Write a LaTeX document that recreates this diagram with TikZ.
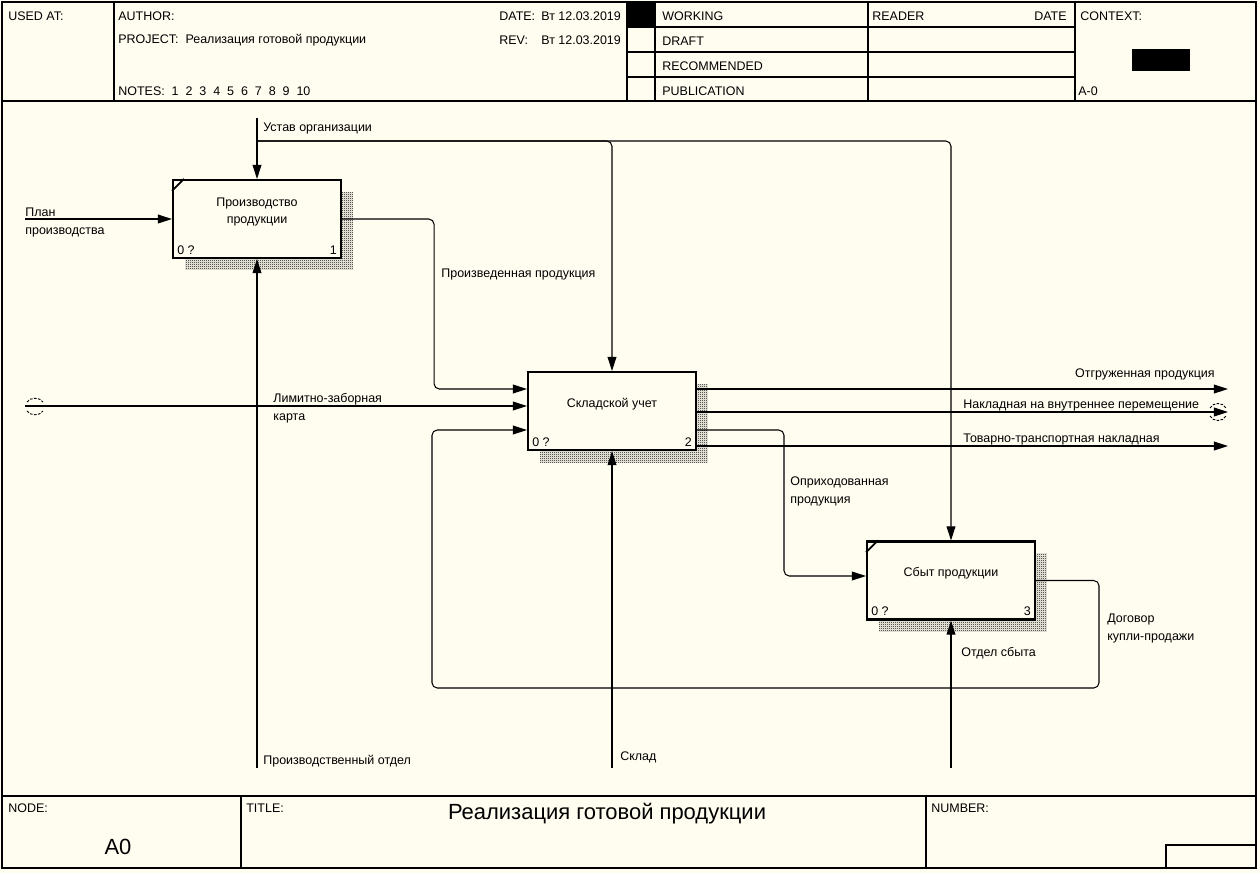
\documentclass[tikz,border=0pt]{standalone}
\usepackage{fontspec}
\setmainfont{Liberation Sans}
\usetikzlibrary{positioning, calc, arrows.meta, patterns, shadows}
\definecolor{paper}{HTML}{FFFCF0}
\pgfdeclarepatternformonly{idefshade}{\pgfpointorigin}{\pgfqpoint{1.14pt}{1.14pt}}{\pgfqpoint{1.14pt}{1.14pt}}{%
  \pgfpathrectangle{\pgfpointorigin}{\pgfqpoint{0.57pt}{0.57pt}}%
  \pgfpathrectangle{\pgfqpoint{0.57pt}{0.57pt}}{\pgfqpoint{0.57pt}{0.57pt}}%
  \pgfusepath{fill}}

\begin{document}
\begin{tikzpicture}[x=0.02cm, y=-0.02cm]
		% settings for this sheet
		\tikzset{
			>={Triangle[length=8pt,width=5pt]},
			txt/.style={font=\fontsize{7.1}{10.2}\selectfont, inner sep=0pt, align=left},
			lbl/.style={txt, anchor=west, yshift=-0.8pt},
			func/.style={draw, line width=1.2pt, fill=paper, minimum width=3.36cm, minimum height=1.56cm, inner sep=0pt,
				general shadow={shadow xshift=0.24cm, shadow yshift=-0.24cm, pattern=idefshade, pattern color=black}},
			link/.style={->, line width=0.6pt, rounded corners=3pt},
			rule/.style={line width=0.6pt},
			tunnel/.style={line width=0.5pt, dash pattern=on 1.5pt off 0.8pt},
		}

		% sheet
		\fill[paper] (0,0) rectangle (1260,873);
		\draw[line width=1pt] (2,2) rectangle (1256,868);

		% header
		\draw[rule] (2,101) -- (1256,101);
		\draw[rule] (114,2) -- (114,101) (627,2) -- (627,101) (655,2) -- (655,101)
			(868,2) -- (868,101) (1075,2) -- (1075,101);
		\draw[rule] (627,27) -- (1075,27) (627,52) -- (1075,52) (627,77) -- (1075,77);
		\fill (627,2) rectangle (655,27);
		\fill (1132,49) rectangle (1190,71);
		\node[lbl] (usedat) at (8,15) {USED AT:};
		\node[lbl] (author) at (118,15) {AUTHOR:};
		\node[lbl] (project) at (118,39) {PROJECT:\ \ Реализация готовой продукции};
		\node[lbl] (notes) at (118,90) {NOTES:\ \ 1\ \ 2\ \ 3\ \ 4\ \ 5\ \ 6\ \ 7\ \ 8\ \ 9\ \ 10};
		\node[lbl] (date) at (499,15) {DATE:};
		\node[lbl] (dateval) at (541,15) {Вт 12.03.2019};
		\node[lbl] (rev) at (499,39) {REV:};
		\node[lbl] (revval) at (541,39) {Вт 12.03.2019};
		\node[lbl] (working) at (662,15) {WORKING};
		\node[lbl] (draft) at (662,40) {DRAFT};
		\node[lbl] (recommended) at (662,65) {RECOMMENDED};
		\node[lbl] (publication) at (662,90) {PUBLICATION};
		\node[lbl] (reader) at (872,15) {READER};
		\node[txt, anchor=east, yshift=-0.8pt] (readerdate) at (1067,15) {DATE};
		\node[lbl] (context) at (1080,15) {CONTEXT:};
		\node[lbl] (ctxnode) at (1078,90) {A-0};

		% footer
		\draw[rule] (2,796) -- (1256,796) (241,796) -- (241,868) (926,796) -- (926,868);
		\draw[rule] (1166,868) |- (1256,845);
		\node[lbl] (nodelbl) at (8,807) {NODE:};
		\node[font=\fontsize{12.5}{14}\selectfont] (nodeid) at (118,847) {A0};
		\node[lbl] (titlelbl) at (246,807) {TITLE:};
		\node[font=\fontsize{12.5}{14}\selectfont] (title) at (607,814) {Реализация готовой продукции};
		\node[lbl] (numberlbl) at (931,807) {NUMBER:};

		% functions
		\node[func, label={[txt, yshift=4pt]center:\parbox{3cm}{\centering Производство\\продукции}}] (prod) at (257,219) {};
		\node[func, label={[txt, yshift=4pt]center:Складской учет}] (stock) at (612,411) {};
		\node[func, label={[txt, yshift=4pt]center:Сбыт продукции}] (sales) at (951,580.5) {};
		\draw[line width=1pt] ($(prod.north west)+(0,12)$) -- ++(12,-12);
		\draw[line width=1pt] ($(sales.north west)+(0,12)$) -- ++(12,-12);
		\node[txt, anchor=base west] (prodq) at ($(prod.south west)+(5,-5)$) {0 ?};
		\node[txt, anchor=base east] (prodno) at ($(prod.south east)+(-5,-5)$) {1};
		\node[txt, anchor=base west] (stockq) at ($(stock.south west)+(5,-5)$) {0 ?};
		\node[txt, anchor=base east] (stockno) at ($(stock.south east)+(-5,-5)$) {2};
		\node[txt, anchor=base west] (salesq) at ($(sales.south west)+(5,-5)$) {0 ?};
		\node[txt, anchor=base east] (salesno) at ($(sales.south east)+(-5,-5)$) {3};

		% inputs
		\coordinate (plan) at (25,219);
		\draw[link] (plan) -- (prod.west);
		\node[lbl] (planlbl) at (25,221) {План\\производства};
		\coordinate (limit) at (25,406);
		\draw[link] (limit) -- (stock.west |- limit);
		\draw[tunnel] (27,402) .. controls (30,397) and (40,397) .. (43,402);
		\draw[tunnel] (27,411) .. controls (30,416) and (40,416) .. (43,411);
		\node[lbl] (limitlbl) at (273,407) {Лимитно-заборная\\карта};

		% controls
		\coordinate (charter) at (257,118);
		\coordinate (charterfork) at (257,141);
		\draw[link] (charter) -- (prod.north);
		\draw[link] (charterfork) -| (stock.north);
		\draw[link] (charterfork) -| (sales.north);
		\node[lbl] (charterlbl) at (263,127) {Устав организации};

		% outputs
		\draw[link] (prod.east) -- ++(92,0) |- ($(stock.west)+(0,-22)$);
		\node[lbl] (madelbl) at (441,273) {Произведенная продукция};
		\coordinate (shipped) at (1228,389);
		\draw[link] (stock.east |- shipped) -- (shipped);
		\node[txt, anchor=east, yshift=-0.8pt] (shippedlbl) at (1215,373) {Отгруженная продукция};
		\coordinate (transfer) at (1228,412);
		\draw[link] (stock.east |- transfer) -- (transfer);
		\draw[tunnel] (1210,408) .. controls (1213,402) and (1223,402) .. (1226,408);
		\draw[tunnel] (1210,416) .. controls (1213,422) and (1223,422) .. (1226,416);
		\node[lbl] (transferlbl) at (963,404) {Накладная на внутреннее перемещение};
		\coordinate (ttn) at (1228,446);
		\draw[link] (stock.east |- ttn) -- (ttn);
		\node[lbl] (ttnlbl) at (963,438) {Товарно-транспортная накладная};
		\draw[link] (stock.east |- 0,430) -- (784,430) |- (sales.west |- 0,576);
		\node[lbl] (receivedlbl) at (790,490) {Оприходованная\\продукция};
		\draw[link] (sales.east) -| (1099,688) -| (432,430) -- (stock.west |- 0,430);
		\node[lbl] (contractlbl) at (1107,627) {Договор\\купли-продажи};

		% mechanisms
		\coordinate (prodmech) at (257,768);
		\draw[link] (prodmech) -- (prod.south);
		\node[lbl] (prodmechlbl) at (263,760) {Производственный отдел};
		\coordinate (storemech) at (612,768);
		\draw[link] (storemech) -- (stock.south);
		\node[lbl] (storemechlbl) at (620,756) {Склад};
		\coordinate (salesmech) at (951,768);
		\draw[link] (salesmech) -- (sales.south);
		\node[lbl] (salesmechlbl) at (961,652) {Отдел сбыта};
	\end{tikzpicture}
\end{document}
